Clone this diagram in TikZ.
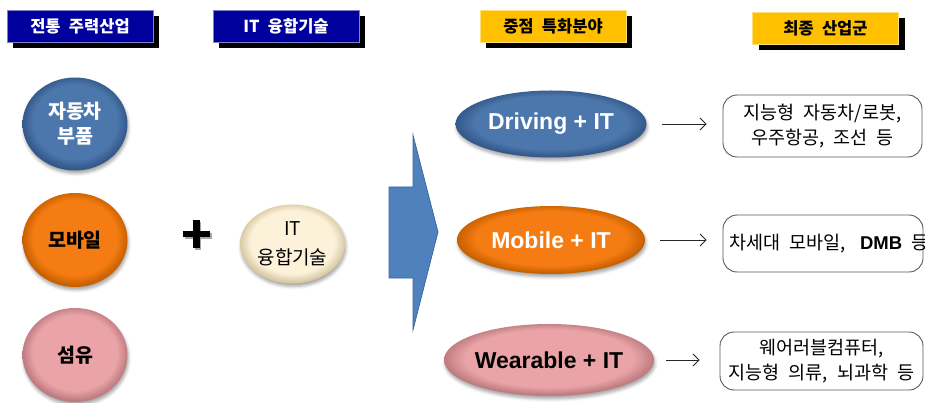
\documentclass[tikz,border=0pt]{standalone}
\usepackage{fontspec}
\setmainfont[WordSpace=2.2]{Noto Sans CJK KR}
\newfontfamily\latinsans{Liberation Sans}
\usetikzlibrary{shadows,shadows.blur,arrows.meta,shapes.geometric}

% palette
\definecolor{hdrblue}{HTML}{00009C}
\definecolor{hdrblueline}{HTML}{8080C8}
\definecolor{hdryellow}{HTML}{FFC000}
\definecolor{hdryellowline}{HTML}{FFE07A}
\definecolor{blueBase}{HTML}{4B77AC}
\definecolor{blueRim}{HTML}{34588A}
\definecolor{orangeBase}{HTML}{F57C12}
\definecolor{orangeRim}{HTML}{C86000}
\definecolor{pinkBase}{HTML}{EAA4A8}
\definecolor{pinkRim}{HTML}{BE7C80}
\definecolor{creamBase}{HTML}{FCF1D9}
\definecolor{creamRim}{HTML}{D9C9A4}
\definecolor{arrowBlue}{HTML}{4F81BD}
\definecolor{arrowLine}{HTML}{3A659A}

% bevelled fills: flat centre, darker rim, heavier at the bottom
\pgfdeclareradialshading{bevelblue}{\pgfpoint{0bp}{2bp}}{color(0bp)=(blueBase); color(20bp)=(blueBase); color(25bp)=(blueRim); color(50bp)=(blueRim)}
\pgfdeclareradialshading{bevelorange}{\pgfpoint{0bp}{2bp}}{color(0bp)=(orangeBase); color(20bp)=(orangeBase); color(25bp)=(orangeRim); color(50bp)=(orangeRim)}
\pgfdeclareradialshading{bevelpink}{\pgfpoint{0bp}{2bp}}{color(0bp)=(pinkBase); color(20bp)=(pinkBase); color(25bp)=(pinkRim); color(50bp)=(pinkRim)}
\pgfdeclareradialshading{bevelcream}{\pgfpoint{0bp}{2bp}}{color(0bp)=(creamBase); color(20bp)=(creamBase); color(25bp)=(creamRim); color(50bp)=(creamRim)}

\tikzset{
  hdr/.style={rectangle, inner sep=0pt, minimum width=146pt, minimum height=32pt,
    font=\bfseries\fontsize{16.5}{18}\selectfont, line width=0.6pt,
    drop shadow={shadow xshift=6pt, shadow yshift=-6pt, fill=black, opacity=1}},
  hdrB/.style={hdr, fill=hdrblue, draw=hdrblueline, text=white},
  hdrY/.style={hdr, fill=hdryellow, draw=hdryellowline, text=black},
  ball/.style={ellipse, inner sep=0pt, align=center,
    blur shadow={shadow xshift=1pt, shadow yshift=-3pt, shadow blur radius=3pt, shadow opacity=35}},
  circtext/.style={font=\bfseries\fontsize{19.5}{25}\selectfont},
  pilltext/.style={font=\latinsans\bfseries\fontsize{23}{26}\selectfont},
  resultbox/.style={rectangle, rounded corners=14pt, draw=black!65, line width=0.9pt,
    fill=white, inner sep=0pt, align=center, font=\fontsize{18.5}{25.5}\selectfont},
  conn/.style={draw=black!85, line width=0.8pt, -{Straight Barb[length=6pt,width=12pt]}},
}

\begin{document}
\begin{tikzpicture}[x=1pt,y=-1pt]
\useasboundingbox (0,0) rectangle (925,403);
\clip (0,0) rectangle (925,403);

% column headers
\node[hdrB] (h1) at (80,26) {전통 주력산업};
\node[hdrB] (h2) at (286,26.5) {IT 융합기술};
\node[hdrY] (h3) at (553,26.5) {중점 특화분야};
\node[hdrY] (h4) at (825.5,28.5) {최종 산업군};

% traditional industries
\node[ball, shading=bevelblue, minimum width=105pt, minimum height=93pt, circtext, text=white] (car) at (75,124) {자동차\\부품};
\node[ball, shading=bevelorange, minimum width=105pt, minimum height=94pt, circtext, text=black] (mobile) at (75,240) {모바일};
\node[ball, shading=bevelpink, minimum width=105pt, minimum height=94pt, circtext, text=black] (fiber) at (75,355) {섬유};

% plus sign
\begin{scope}[line width=6.5pt]
  \draw[black!35] (184.5,236) -- (211.5,236) (198,222) -- (198,250);
  \draw[black] (183,234) -- (210,234) (196.5,220) -- (196.5,248);
\end{scope}

% IT convergence
\node[ball, shading=bevelcream, minimum width=105pt, minimum height=79pt,
  font=\fontsize{19}{29}\selectfont] (it) at (292.5,244) {IT\\융합기술};

% big arrow
\draw[fill=arrowBlue, draw=arrowLine, line width=0.7pt, line join=miter]
  (389,187) -- (413,187) -- (413,135) -- (438,232) -- (413,330) -- (413,278) -- (389,278) -- cycle;

% focus fields
\node[ball, shading=bevelblue, minimum width=191pt, minimum height=67pt, pilltext, text=white] (drv) at (551,124) {Driving + IT};
\node[ball, shading=bevelorange, minimum width=188pt, minimum height=68pt, pilltext, text=white] (mob) at (551,240) {Mobile + IT};
\node[ball, shading=bevelpink, minimum width=188pt, minimum height=72pt, pilltext, text=black] (wear) at (549,360) {Wearable + IT};

% resulting industries
\node[resultbox, minimum width=199pt, minimum height=62pt] (r1) at (822.5,126) {지능형 자동차/로봇,\\우주항공, 조선 등};
\node[resultbox, minimum width=200pt, minimum height=57pt, inner xsep=6pt] (r2) at (823,243.5)
  {\makebox[188pt][l]{차세대 모바일,\hspace{0.3em} {\latinsans\bfseries DMB} 등}};
\node[resultbox, minimum width=203pt, minimum height=58pt] (r3) at (821.5,361) {웨어러블컴퓨터,\\지능형 의류, 뇌과학 등};

% connectors
\draw[conn, shorten <=15pt, shorten >=16pt] (drv.east) -- (drv.east -| r1.west);
\draw[conn, shorten <=15pt, shorten >=16pt] (mob.east) -- (mob.east -| r2.west);
\draw[conn, shorten <=12pt, shorten >=20pt] (wear.east) -- (wear.east -| r3.west);
\end{tikzpicture}
\end{document}
